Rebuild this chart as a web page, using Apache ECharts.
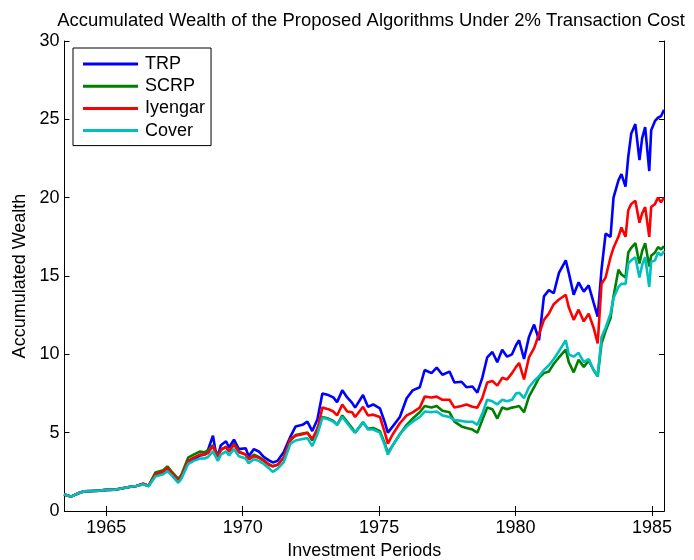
<!DOCTYPE html>
<html>
<head>
<meta charset="utf-8">
<script src="https://cdn.jsdelivr.net/npm/echarts@6/dist/echarts.min.js"></script>
<style>html,body{margin:0;padding:0;background:#fff}#c{width:694px;height:560px}</style>
</head>
<body>
<div id="c"></div>
<script>
const periods = [1963.45,1963.56,1963.70,1963.81,1964.00,1964.18,1964.50,1964.75,1965.02,1965.30,1965.60,1965.89,1966.10,1966.36,1966.55,1966.80,1967.09,1967.24,1967.38,1967.64,1967.75,1968.00,1968.20,1968.44,1968.60,1968.73,1968.91,1969.00,1969.09,1969.20,1969.39,1969.50,1969.68,1969.86,1970.11,1970.22,1970.41,1970.59,1970.77,1970.95,1971.10,1971.28,1971.50,1971.75,1971.94,1972.19,1972.37,1972.55,1972.74,1972.92,1973.14,1973.32,1973.46,1973.65,1973.83,1974.01,1974.12,1974.41,1974.59,1974.78,1975.03,1975.21,1975.32,1975.50,1975.76,1976.01,1976.23,1976.49,1976.67,1976.92,1977.11,1977.32,1977.58,1977.76,1978.02,1978.20,1978.42,1978.60,1978.78,1978.96,1979.15,1979.33,1979.51,1979.69,1979.87,1980.02,1980.13,1980.31,1980.49,1980.68,1980.86,1981.04,1981.22,1981.40,1981.59,1981.84,1981.95,1982.13,1982.31,1982.50,1982.68,1982.86,1983.01,1983.15,1983.30,1983.48,1983.59,1983.77,1983.88,1984.03,1984.13,1984.24,1984.39,1984.54,1984.64,1984.75,1984.90,1984.97,1985.11,1985.22,1985.33,1985.44];

const trp = [1.05,1.0,0.92,1.0,1.15,1.25,1.28,1.3,1.35,1.36,1.45,1.55,1.6,1.72,1.6,2.3,2.5,2.7,2.45,2.0,2.2,3.1,3.3,3.55,3.6,3.9,4.8,3.9,3.5,4.2,4.45,4.05,4.55,3.95,4.0,3.5,3.95,3.8,3.45,3.25,3.1,3.2,3.75,4.75,5.4,5.5,5.7,5.1,5.85,7.5,7.4,7.25,6.95,7.7,7.25,6.9,6.6,7.4,6.65,6.8,6.55,5.65,5.0,5.4,6.0,7.2,7.7,7.9,9.0,8.8,9.15,8.7,8.9,8.2,8.25,7.9,7.95,7.55,8.5,9.8,10.15,9.5,10.3,9.85,10.0,10.6,10.9,9.7,11.1,11.9,10.9,13.7,14.1,13.9,15.2,16.0,15.2,13.8,14.6,14.0,14.4,13.3,12.4,15.4,17.7,17.5,20.0,21.1,21.5,20.7,22.6,24.1,24.7,22.4,23.8,24.5,21.7,24.3,24.9,25.1,25.2,25.6];

const scrp = [1.05,1.0,0.92,1.0,1.15,1.25,1.28,1.3,1.35,1.36,1.45,1.55,1.6,1.72,1.6,2.45,2.6,2.85,2.55,2.05,2.3,3.4,3.6,3.8,3.75,3.85,4.2,3.8,3.5,3.9,4.1,3.8,4.3,3.8,3.6,3.3,3.6,3.45,3.25,3.0,2.85,2.95,3.4,4.5,4.85,4.95,5.0,4.5,5.3,6.0,5.9,5.75,5.5,6.1,5.7,5.3,5.0,5.65,5.25,5.3,5.1,4.3,3.7,4.2,4.9,5.5,5.9,6.3,6.7,6.6,6.7,6.4,6.3,5.7,5.4,5.3,5.2,5.0,5.8,6.6,6.5,5.9,6.6,6.5,6.6,6.65,6.7,6.3,7.3,7.9,8.5,8.8,8.9,9.4,9.8,10.3,9.5,8.85,9.65,9.2,9.6,9.0,8.6,10.7,11.5,12.3,13.7,15.4,15.1,14.9,16.5,16.8,17.1,15.8,16.6,17.1,15.6,16.3,16.5,16.85,16.7,16.9];

const iyengar = [1.05,1.0,0.92,1.0,1.15,1.25,1.28,1.3,1.35,1.36,1.45,1.55,1.6,1.75,1.6,2.35,2.5,2.75,2.45,1.95,2.2,3.2,3.4,3.6,3.6,3.7,4.15,3.75,3.45,3.9,4.1,3.8,4.25,3.75,3.6,3.3,3.5,3.4,3.2,2.95,2.85,2.95,3.4,4.6,4.8,4.9,5.0,4.6,5.2,6.6,6.5,6.35,6.1,6.8,6.35,6.3,6.0,6.65,6.1,6.15,6.0,5.0,4.3,4.9,5.6,6.1,6.3,6.6,7.3,7.25,7.3,7.1,7.1,6.6,6.7,6.8,6.65,6.6,7.2,8.2,8.3,8.0,8.5,8.4,8.8,9.2,9.45,8.4,9.8,10.4,11.3,12.2,12.6,13.2,13.5,13.8,13.0,12.2,12.85,12.1,12.6,11.7,10.7,14.5,14.9,16.2,16.8,17.5,18.1,17.5,19.2,19.6,19.8,18.4,19.0,19.4,17.5,19.4,19.6,20.0,19.7,20.0];

const cover = [1.05,1.0,0.92,1.0,1.15,1.25,1.28,1.3,1.35,1.36,1.45,1.55,1.6,1.7,1.58,2.2,2.35,2.55,2.3,1.8,2.05,3.0,3.2,3.35,3.35,3.45,3.8,3.5,3.2,3.6,3.8,3.55,3.95,3.5,3.35,3.05,3.3,3.2,3.0,2.75,2.5,2.7,3.1,4.3,4.5,4.6,4.65,4.15,4.9,5.95,5.85,5.7,5.5,6.0,5.6,5.2,5.0,5.7,5.2,5.2,5.0,4.2,3.6,4.2,4.9,5.4,5.7,6.0,6.35,6.3,6.35,6.1,6.0,5.8,5.75,5.7,5.7,5.5,6.2,7.1,7.0,6.8,7.1,7.0,7.1,7.5,7.55,7.2,7.9,8.3,8.6,9.0,9.3,9.7,10.2,10.9,10.0,9.85,10.1,9.5,9.7,9.0,8.6,11.1,11.7,12.6,13.6,14.3,14.5,14.5,15.8,16.0,16.2,14.9,15.7,16.2,14.3,15.9,16.0,16.5,16.3,16.6];

const seriesNames = ['TRP','SCRP','Iyengar','Cover'];
const seriesValues = [trp, scrp, iyengar, cover];
const seriesColors = ['#0000ff','#008000','#ff0000','#00bfbf'];
const xTickLabels = [1965,1970,1975,1980,1985];
const yTickLabels = [0,5,10,15,20,25,30];
const titleText = 'Accumulated Wealth of the Proposed Algorithms Under 2% Transaction Cost';

const font = 'Liberation Sans, Arial, Helvetica, sans-serif';

// fit title to the reference width (~628 px)
const cv = document.createElement('canvas').getContext('2d');
cv.font = '100px "Liberation Sans", Arial, sans-serif';
let titleSize = 628 / cv.measureText(titleText).width * 100;
if (!isFinite(titleSize) || titleSize < 14 || titleSize > 22) titleSize = 18.8;

const chart = echarts.init(document.getElementById('c'));
const axisLine = {show:true, lineStyle:{color:'#000', width:1}};
const tick = {show:true, inside:true, length:5, lineStyle:{color:'#000', width:1}};
const xMin = 1963.47, xMax = 1985.44;

chart.setOption({
  animation:false,
  backgroundColor:'#fff',
  title:{text:titleText, left:366, textAlign:'center', top:7,
    textStyle:{fontFamily:font, fontSize:titleSize, fontWeight:'normal', color:'#000'}},
  grid:{left:64.5, right:30, top:41, bottom:49, outerBoundsMode:'none', containLabel:false},
  legend:{
    orient:'vertical', left:73, top:48, data:seriesNames,
    icon:'rect', itemWidth:55, itemHeight:3, itemGap:4.2,
    padding:[7,6,6,10], borderColor:'#000', borderWidth:1, backgroundColor:'#fff',
    textStyle:{fontFamily:font, fontSize:18, color:'#000', padding:[0,0,0,2]}
  },
  xAxis:[{
    type:'value', min:xMin, max:xMax,
    name:'Investment Periods', nameLocation:'middle', nameGap:30,
    nameTextStyle:{fontFamily:font, fontSize:18, color:'#000'},
    axisLine:axisLine, axisTick:Object.assign({customValues:xTickLabels}, tick),
    axisLabel:{customValues:xTickLabels, fontFamily:font, fontSize:18, color:'#000', margin:8, formatter:v=>String(v)},
    splitLine:{show:false}
  },{
    type:'value', position:'top', min:xMin, max:xMax,
    axisLine:axisLine, axisTick:Object.assign({customValues:xTickLabels}, tick),
    axisLabel:{show:false}, splitLine:{show:false}
  }],
  yAxis:[{
    type:'value', min:0, max:30, interval:5,
    name:'Accumulated Wealth', nameLocation:'middle', nameGap:29,
    nameTextStyle:{fontFamily:font, fontSize:18, color:'#000'},
    axisLine:axisLine, axisTick:tick,
    axisLabel:{fontFamily:font, fontSize:18, color:'#000', margin:5},
    splitLine:{show:false}
  },{
    type:'value', position:'right', min:0, max:30, interval:5,
    axisLine:axisLine, axisTick:tick, axisLabel:{show:false}, splitLine:{show:false}
  }],
  series: seriesNames.map((n,i)=>({
    name:n, type:'line', showSymbol:false, symbol:'none',
    data: periods.map((p,j)=>[p, seriesValues[i][j]]),
    lineStyle:{color:seriesColors[i], width:2.6},
    itemStyle:{color:seriesColors[i]}
  }))
});
</script>
</body>
</html>
